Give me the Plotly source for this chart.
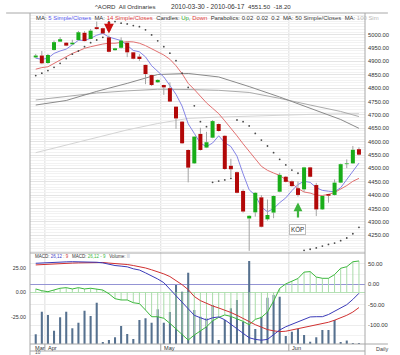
import plotly.graph_objects as go

# ---------------- data ----------------
dates = ["2010-03-30", "2010-03-31",
         "2010-04-01", "2010-04-06", "2010-04-07", "2010-04-08", "2010-04-09", "2010-04-12",
         "2010-04-13", "2010-04-14", "2010-04-15", "2010-04-16", "2010-04-19", "2010-04-20",
         "2010-04-21", "2010-04-22", "2010-04-23", "2010-04-27", "2010-04-28", "2010-04-29",
         "2010-04-30",
         "2010-05-03", "2010-05-04", "2010-05-05", "2010-05-06", "2010-05-07", "2010-05-10",
         "2010-05-11", "2010-05-12", "2010-05-13", "2010-05-14", "2010-05-17", "2010-05-18",
         "2010-05-19", "2010-05-20", "2010-05-21", "2010-05-24", "2010-05-25", "2010-05-26",
         "2010-05-27", "2010-05-28", "2010-05-31",
         "2010-06-01", "2010-06-02", "2010-06-03", "2010-06-04", "2010-06-07", "2010-06-08",
         "2010-06-09", "2010-06-10", "2010-06-11", "2010-06-15", "2010-06-16", "2010-06-17"]
month_labels = {"03": "Mar", "04": "Apr", "05": "May", "06": "Jun"}

opens = [4915, 4922, 4894, 4943, 4974, 4970, 4964, 4980, 5007, 4984, 5028, 5024, 4990, 4942,
         4951, 4970, 4934, 4918, 4887, 4849, 4822, 4812, 4800, 4731, 4675, 4569, 4519, 4629,
         4578, 4615, 4666, 4622, 4510, 4486, 4416, 4313, 4336, 4392, 4310, 4335, 4413, 4469,
         4452, 4426, 4422, 4504, 4438, 4347, 4404, 4401, 4447, 4516, 4519, 4572]
highs = [4928, 4939, 4928, 4978, 4991, 4972, 4981, 5014, 5013, 5021, 5049, 5026, 4997, 4951,
         4990, 4972, 4935, 4927, 4888, 4850, 4833, 4813, 4822, 4732, 4677, 4571, 4620, 4652,
         4637, 4681, 4668, 4624, 4536, 4488, 4422, 4325, 4411, 4400, 4384, 4399, 4484, 4472,
         4455, 4451, 4506, 4506, 4446, 4399, 4405, 4459, 4518, 4534, 4584, 4579]
lows = [4912, 4890, 4891, 4941, 4973, 4957, 4962, 4978, 4975, 4983, 5019, 5003, 4934, 4940,
        4948, 4916, 4908, 4902, 4815, 4808, 4820, 4775, 4748, 4648, 4592, 4448, 4517, 4567,
        4576, 4613, 4638, 4495, 4468, 4407, 4335, 4192, 4320, 4280, 4305, 4314, 4411, 4448,
        4432, 4395, 4413, 4467, 4322, 4345, 4372, 4399, 4445, 4501, 4517, 4548]
closes = [4922, 4893, 4924, 4972, 4983, 4959, 4970, 5009, 4976, 5015, 5021, 5005, 4936, 4949,
          4978, 4934, 4910, 4909, 4853, 4812, 4831, 4803, 4750, 4687, 4594, 4503, 4619, 4569,
          4598, 4677, 4640, 4498, 4497, 4409, 4339, 4323, 4409, 4282, 4326, 4397, 4476, 4450,
          4434, 4401, 4504, 4469, 4347, 4397, 4398, 4447, 4516, 4519, 4569.7, 4551.5]

ma5 = [4912, 4908, 4912, 4930, 4939, 4946, 4962, 4979, 4979, 4986, 4998, 5005, 4991, 4985,
       4978, 4960, 4941, 4936, 4917, 4884, 4863, 4842, 4810, 4777, 4733, 4667, 4631, 4594,
       4582, 4595, 4622, 4596, 4582, 4546, 4480, 4420, 4400, 4356, 4338, 4350, 4372, 4390,
       4417, 4440, 4452, 4448, 4428, 4418, 4415, 4413, 4428, 4458, 4486, 4520]
ma14 = [4871, 4877, 4880, 4893, 4905, 4918, 4930, 4939, 4949, 4955, 4961, 4965, 4968, 4968,
        4971, 4974, 4973, 4968, 4959, 4948, 4938, 4924, 4908, 4884, 4854, 4818, 4795, 4768,
        4745, 4725, 4705, 4678, 4652, 4622, 4592, 4562, 4536, 4508, 4493, 4483, 4474, 4458,
        4444, 4425, 4412, 4408, 4400, 4399, 4403, 4410, 4422, 4436, 4452, 4463]
ma_idx = [0, 5, 10, 15, 20, 25, 30, 35, 40, 45, 50, 53]
ma50 = [4737, 4754, 4788, 4818, 4851, 4855, 4842, 4806, 4767, 4726, 4683, 4650]
ma100 = [4756, 4770, 4782, 4790, 4796, 4795, 4792, 4784, 4762, 4737, 4713, 4694]
ma200 = [4559, 4588, 4616, 4644, 4668, 4687, 4692, 4696, 4700, 4702, 4704, 4705]

sar = [4847, 4856, 4866, 4878, 4893, 4911, 4927, 4939, 4955, 4970, 4980, 4990,
       5049, 5049, 5043, 5040, 5034, 5030, 5018, 4999, 4977, 4955, 4931, 4903, 4856,
       4803, 4734, 4675, 4656,
       4448, 4453, 4457, 4463,
       4681, 4675, 4659, 4631, 4606, 4584, 4559, 4534, 4513, 4494, 4482,
       4194, 4198, 4203, 4210, 4216, 4221, 4230, 4240, 4256, 4280]
sell_idx = [12]
buy_idx = [43]

volume = [107, 355, 319, 146, 294, 355, 173, 234, 366, 308, 454, 22, 44, 74, 198, 110, 55,
          264, 283, 234, 382, 234, 352, 649, 575, 784, 374, 300, 283, 429, 44, 264, 393, 484,
          245, 913, 165, 300, 509, 539, 520, 88, 135, 165, 99, 25, 74, 154, 154, 264, 22, 38,
          11, 11]
macd = [51.5, 52.5, 53, 53.9, 54.5, 55, 55.4, 55.4, 55.4, 55, 54, 52.5, 49, 46, 44.5, 42.8,
        38, 35, 28, 21, 13, 4, -12, -28, -45, -62, -76, -82, -87.5, -82, -80, -87, -98, -110,
        -122, -131, -135, -137, -135, -124, -112, -104, -98, -91, -86, -80, -79.4, -79.4,
        -74, -66, -58, -50, -37, -22]
signal = [47.5, 48.5, 49.5, 50, 50.5, 51, 52, 52.5, 53, 53.5, 53.9, 53.5, 52, 51, 50, 48.5,
          46, 43.5, 40, 35.5, 31, 25.5, 19, 10, -1, -13, -30, -40, -47, -53, -58, -63, -69,
          -76, -84, -92, -99, -105, -111, -114, -116, -115, -112, -109, -106, -103, -100, -97,
          -93, -88, -82, -76, -68, -57]
hist = [3.4, 1.6, 0.6, 2.3, 4.1, 4.7, 3.4, 4.7, 3.4, 4.1, 3.4, 2.3, -1.5, -6.5, -7.8, -7.8,
        -10.6, -11.5, -18, -24.8, -24.8, -26.4, -31.5, -37, -42, -48.5, -43.4, -39, -35, -29,
        -25.5, -23, -24.5, -27, -29.5, -33, -27.5, -25.5, -20, -9, 4, 8.5, 11.5, 14, 20.5, 21,
        15.5, 14.2, 14.2, 18, 24.4, 26, 31, 31.8]

price_ticks = [4250, 4300, 4350, 4400, 4450, 4500, 4550, 4600, 4650, 4700, 4750, 4800, 4850,
               4900, 4950, 5000]
macd_ticks = [50, 0, -50, -100]
hist_ticks = [25, 0, -25]

# ---------------- layout geometry ----------------
W, H = 400, 355
ML, MR, MT, MB = 25, 24, 13, 11
PW, PH = W - ML - MR, H - MT - MB
LOWER = 91
split = LOWER / PH
FONT = "Liberation Sans, Arial, sans-serif"
NB = "\u00a0"


def px(v):
    return (v - ML) / PW


def py(v):
    return (H - MB - v) / PH


def col(s, c):
    return '<span style="color:%s">%s</span>' % (c, s)


n = len(dates)
xs = list(range(n))

fig = go.Figure()

# moving averages
for vals, c in [(ma200, "#d4d4d4"), (ma100, "#ababab"), (ma50, "#8a8a8a")]:
    fig.add_trace(go.Scatter(x=ma_idx, y=vals, mode="lines", line=dict(color=c, width=1)))
fig.add_trace(go.Scatter(x=xs, y=ma14, mode="lines", line=dict(color="#e27070", width=1)))
fig.add_trace(go.Scatter(x=xs, y=ma5, mode="lines", line=dict(color="#8585e6", width=1)))

# parabolic SAR
fig.add_trace(go.Scatter(x=xs, y=sar, mode="markers",
                         marker=dict(size=1.8, color="#4a4a4a"), cliponaxis=False))

# wicks
wx, wy = [], []
for i in xs:
    top, bot = max(opens[i], closes[i]), min(opens[i], closes[i])
    wx += [i, i, None, i, i, None]
    wy += [highs[i], top, None, bot, lows[i], None]
fig.add_trace(go.Scatter(x=wx, y=wy, mode="lines", line=dict(color="#a3a3a3", width=1)))

# bodies
gx, gy, rx, ry = [], [], [], []
for i in xs:
    if closes[i] >= opens[i]:
        gx += [i, i, None]
        gy += [opens[i], closes[i], None]
    else:
        rx += [i, i, None]
        ry += [opens[i], closes[i], None]
fig.add_trace(go.Scatter(x=gx, y=gy, mode="lines", line=dict(color="#19ad19", width=4)))
fig.add_trace(go.Scatter(x=rx, y=ry, mode="lines", line=dict(color="#b20808", width=4)))

# lower panel: volume
fig.add_trace(go.Bar(x=xs, y=volume, yaxis="y2", width=0.34,
                     marker=dict(color="#56718f", line=dict(width=0))))
# histogram stems + line
sx, sy = [], []
for i in xs:
    sx += [i, i, None]
    sy += [0, hist[i], None]
fig.add_trace(go.Scatter(x=sx, y=sy, yaxis="y3", mode="lines",
                         line=dict(color="#aadcaa", width=1)))
fig.add_trace(go.Scatter(x=xs, y=hist, yaxis="y3", mode="lines",
                         line=dict(color="#3cb83c", width=1)))
fig.add_trace(go.Scatter(x=xs, y=signal, yaxis="y4", mode="lines",
                         line=dict(color="#d03030", width=1)))
fig.add_trace(go.Scatter(x=xs, y=macd, yaxis="y4", mode="lines",
                         line=dict(color="#3a3ab8", width=1)))

tickfont = dict(family=FONT, size=5.8, color="#333333")
fig.update_layout(
    width=W, height=H, autosize=False,
    margin=dict(l=ML, r=MR, t=MT, b=MB, pad=0),
    paper_bgcolor="white", plot_bgcolor="white",
    showlegend=False, hovermode=False,
    xaxis=dict(domain=[0, 1], range=[-0.94, 53.99], anchor="y2", showticklabels=False,
               showgrid=False, zeroline=False, showline=False, ticks=""),
    yaxis=dict(domain=[split, 1], range=[4184, 5081], side="right", anchor="x",
               tickmode="array", tickvals=price_ticks,
               ticktext=["%.2f" % v for v in price_ticks],
               showgrid=True, gridcolor="#e4e4e4", gridwidth=1,
               minor=dict(tickmode="linear", tick0=0, dtick=10, showgrid=True,
                          gridcolor="#f2f2f2"),
               zeroline=False, ticks="", tickfont=tickfont, ticklabelstandoff=2),
    yaxis2=dict(domain=[0, split], range=[0, 1001], visible=False, anchor="x"),
    yaxis3=dict(overlaying="y2", side="left", anchor="x", range=[-52.5, 39.9],
                tickmode="array", tickvals=hist_ticks,
                ticktext=["%.2f" % v for v in hist_ticks],
                showgrid=False, zeroline=True, zerolinecolor="#b4e0b4", zerolinewidth=1,
                ticks="", tickfont=dict(family=FONT, size=5.3, color="#333333"),
                ticklabelstandoff=3),
    yaxis4=dict(overlaying="y2", side="right", anchor="x", range=[-146.3, 76.7],
                tickmode="array", tickvals=macd_ticks,
                ticktext=["%.2f" % v for v in macd_ticks],
                showgrid=True, gridcolor="#ececec",
                minor=dict(tickmode="linear", tick0=0, dtick=25, showgrid=True,
                           gridcolor="#f2f2f2"),
                zeroline=True, zerolinecolor="#9494d4", zerolinewidth=1,
                ticks="", tickfont=tickfont, ticklabelstandoff=2),
)

# month boundaries
shapes = []
bounds = []
for i in xs:
    if i == 0 or dates[i][5:7] != dates[i - 1][5:7]:
        bounds.append(i)
for b in bounds:
    if b > 0:
        shapes.append(dict(type="line", xref="x", yref="paper", x0=b - 0.5, x1=b - 0.5,
                           y0=py(344), y1=1, layer="below",
                           line=dict(color="#dedede", width=1)))
        shapes.append(dict(type="line", xref="x", yref="paper", x0=b - 0.5, x1=b - 0.5,
                           y0=py(351), y1=py(344), line=dict(color="#a0a0a0", width=1)))

border = "#a8a8a8"
for (x0, y0, x1, y1) in [(0, 13, 400, 13), (25, 253, 376, 253), (25, 344, 400, 344),
                         (25, 351, 376, 351), (25, 13, 25, 355), (376, 13, 376, 355)]:
    shapes.append(dict(type="line", xref="paper", yref="paper", x0=px(x0), x1=px(x1),
                       y0=py(y0), y1=py(y1), line=dict(color=border, width=1)))
fig.update_layout(shapes=shapes)


def txt(s, x, y, color="#333333", size=6, anchor="left"):
    fig.add_annotation(text=s, x=px(x), y=py(y), xref="paper", yref="paper",
                       xanchor=anchor, yanchor="middle", showarrow=False,
                       font=dict(family=FONT, size=size, color=color))


# title row
last = closes[-1]
chg = closes[-1] - closes[-2]
txt("^AORD" + NB * 2 + "All Ordinaries", 91.5, 7, size=6.1)
txt("%s - %s" % (dates[0], dates[-1]), 211.5, 7, size=6.6, anchor="center")
txt("%.2f" % last + NB * 2 + "%.2f" % chg, 300.5, 7, size=6.1, anchor="right")

# main legend (one line, coloured parts)
gap = NB * 2
legend = ("MA: " + col("5 Simple/Closes", "#5a5af0") + gap +
          "MA: " + col("14 Simple/Closes", "#e03c3c") + gap +
          "Candles: " + col("Up", "#2aa82a") + ", " + col("Down", "#e03c3c") + gap +
          "Parabolics: 0.02" + gap + "0.02" + gap + "0.2" + gap +
          "MA: " + col("50 Simple/Closes", "#444444") + gap +
          "MA: " + col("100 Sim", "#b8b8b8"))
txt(legend, 29.3, 17.5, size=5.95)

# lower legend
low_leg = ("MACD: " + col("26,12", "#4444c8") + col(" : 9", "#d03030") + NB * 3 +
           "MACD: " + col("26,12 - 9", "#3cb83c") + NB * 3 +
           "Volume: " + col("lll", "#b0b8c8"))
txt(low_leg, 28.3, 256, size=4.5)

# month labels
for b in bounds:
    fig.add_annotation(text=month_labels[dates[b][5:7]], x=b - 0.5, y=py(347.8),
                       xref="x", yref="paper", xanchor="left", yanchor="middle",
                       xshift=0.8, showarrow=False,
                       font=dict(family=FONT, size=5.6, color="#333333"))
txt("Daily", 385, 349, "#444444", size=5.5)
txt(dates[0][2:4], 28.5, 352.8, "#555555", size=4.8)

# signals
for i in sell_idx:
    fig.add_annotation(x=i, y=highs[i], xref="x", yref="y", text="", showarrow=True,
                       arrowhead=2, arrowsize=0.75, arrowwidth=2.6, arrowcolor="#cc1010",
                       ax=0, ay=-15, standoff=2)
for i in buy_idx:
    fig.add_annotation(x=i, y=lows[i], xref="x", yref="y", text="KÖP", showarrow=True,
                       arrowhead=2, arrowsize=0.8, arrowwidth=2.2, arrowcolor="#3cb43c",
                       ax=0, ay=33, standoff=6, startstandoff=7, bgcolor="white",
                       bordercolor="#bdbdbd", borderwidth=1, borderpad=1,
                       font=dict(family=FONT, size=6.3, color="#333333"))

fig.write_html("out.html")
